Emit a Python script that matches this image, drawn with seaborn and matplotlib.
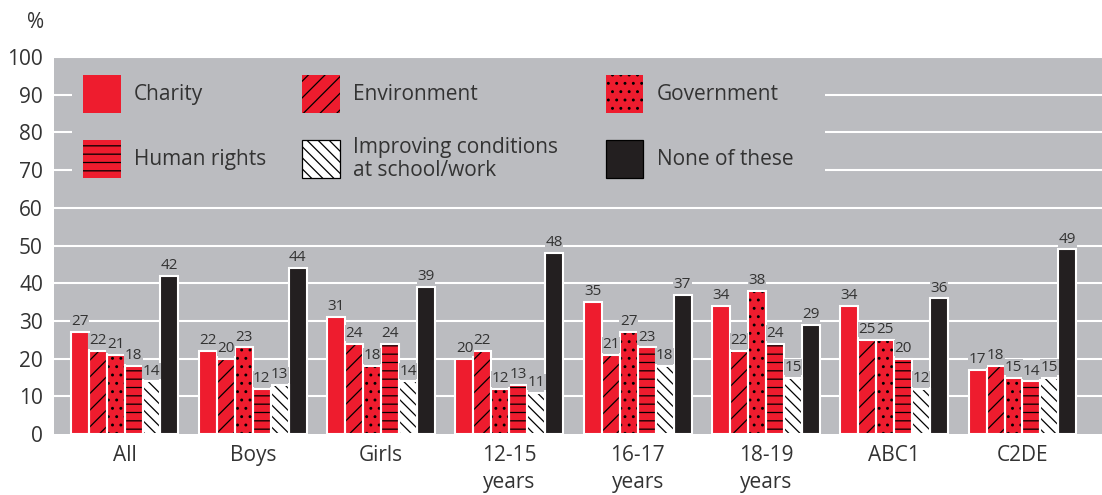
import seaborn as sns
import numpy as np
import pandas as pd
import matplotlib.pyplot as plt
from matplotlib.patches import Rectangle

groups = ["All", "Boys", "Girls", "12-15\nyears", "16-17\nyears", "18-19\nyears", "ABC1", "C2DE"]
causes = ["Charity", "Environment", "Government", "Human rights",
          "Improving conditions\nat school/work", "None of these"]
charity = [27, 22, 31, 20, 35, 34, 34, 17]
environment = [22, 20, 24, 22, 21, 22, 25, 18]
government = [21, 23, 18, 12, 27, 38, 25, 15]
human_rights = [18, 12, 24, 13, 23, 24, 20, 14]
improving = [14, 13, 14, 11, 18, 15, 12, 15]
none_of_these = [42, 44, 39, 48, 37, 29, 36, 49]

RED = "#ee1c2e"
DARK = "#231f20"
GREY = "#bbbcc0"
TXT = "#333333"
colors = [RED, RED, RED, RED, "white", DARK]
hatches = ["", "//", "..", "--", "\\\\\\", ""]

values = [charity, environment, government, human_rights, improving, none_of_these]
df = pd.DataFrame({
    "group": np.repeat([groups], len(causes), axis=0).ravel(),
    "cause": np.repeat(causes, len(groups)),
    "value": np.concatenate(values),
})

sns.set_style("white")
plt.rcParams["font.family"] = ["Open Sans", "DejaVu Sans"]
plt.rcParams["hatch.linewidth"] = 0.9

fig = plt.figure(figsize=(11.02, 4.95), dpi=100)
ax = fig.add_axes([0.049, 0.123, 0.951, 0.762])
ax.set_facecolor(GREY)

sns.barplot(data=df, x="group", y="value", hue="cause", hue_order=causes,
            order=groups, palette=colors, width=0.84, gap=0, ax=ax,
            legend=False, zorder=3)

for container, col, h in zip(ax.containers, colors, hatches):
    for p in container:
        p.set_facecolor(col)
        p.set_hatch(h)
        p.set_edgecolor("black")
        p.set_linewidth(0)
        ax.add_patch(Rectangle(p.get_xy(), p.get_width(), p.get_height(),
                               fill=False, edgecolor="white", linewidth=1.5, zorder=4))
    ax.bar_label(container, padding=2, fontsize=11, color=TXT, zorder=5,
                 bbox=dict(facecolor=GREY, edgecolor="none", pad=0.3))

ax.set_ylim(0, 100)
ax.set_xlim(-0.55, 7.62)
ax.set_yticks(range(0, 101, 10))
for y in range(10, 101, 10):
    ax.axhline(y, color="white", linewidth=1.5, zorder=1)

for s in ax.spines.values():
    s.set_visible(False)
ax.tick_params(axis="both", length=0, labelsize=15, colors=TXT)
ax.tick_params(axis="x", pad=8)
ax.tick_params(axis="y", pad=8)
for t in ax.get_xticklabels():
    t.set_linespacing(1.35)
ax.set_xlabel("")
ax.set_ylabel("")
fig.text(0.032, 0.955, "%", fontsize=15, color=TXT, ha="center", va="center")

# legend drawn by hand (axes-fraction coordinates), 3 columns x 2 rows
tr = ax.transAxes
ax.add_patch(Rectangle((0.017, 0.634), 0.7185, 0.358, transform=tr,
                       facecolor=GREY, edgecolor="none", zorder=6))
col_x = [0.028, 0.237, 0.527]
row_y = [0.901, 0.729]
hw, hh = 0.0355, 0.100
for i, (lab, c, h) in enumerate(zip(causes, colors, hatches)):
    cx = col_x[i % 3]
    cy = row_y[i // 3]
    ax.add_patch(Rectangle((cx, cy - hh / 2), hw, hh, transform=tr, facecolor=c,
                           hatch=h, edgecolor="black" if (h or c != RED) else c,
                           linewidth=0.9 if c != RED else 0, zorder=7))
    ax.text(cx + hw + 0.0125, cy, lab, transform=tr, fontsize=15, color=TXT,
            ha="left", va="center", linespacing=1.15, zorder=8)

fig.savefig("out.png", dpi=100)
